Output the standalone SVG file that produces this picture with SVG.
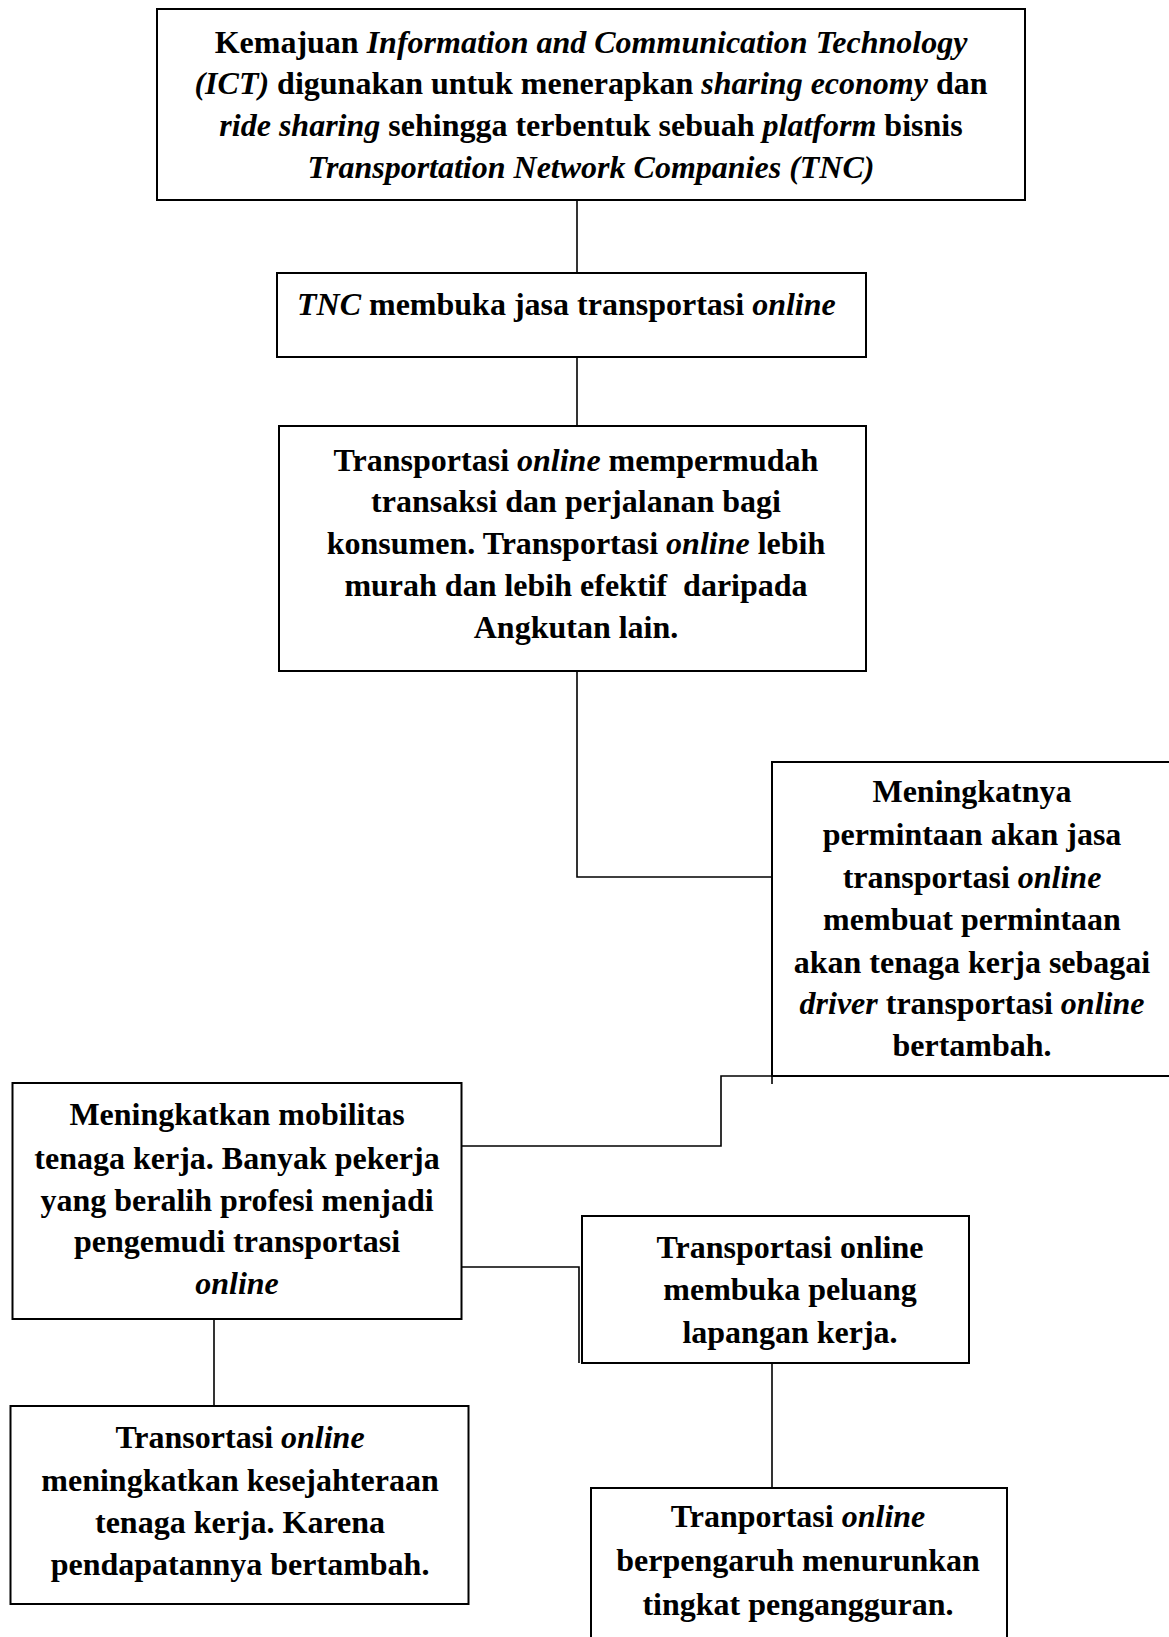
<svg xmlns="http://www.w3.org/2000/svg" width="1169" height="1637" viewBox="0 0 1169 1637">
<style>
.box{fill:#fff;stroke:#000;stroke-width:2}
.conn{fill:none;stroke:#000;stroke-width:1.6}
text{font-family:"Liberation Serif","Times New Roman",serif;font-size:32px;font-weight:bold;fill:#000}
.c{text-anchor:middle}
.i{font-style:italic}
</style>
<rect width="1169" height="1637" fill="#fff"/>
<g id="connectors">
<path class="conn" d="M577 200 V273"/>
<path class="conn" d="M577 357 V426"/>
<path class="conn" d="M577 671 V877 H772"/>
<path class="conn" d="M772 1076 H721 V1146 H462"/>
<path class="conn" d="M772 1076 V1084"/>
<path class="conn" d="M462 1267 H579 V1363"/>
<path class="conn" d="M214 1319 V1406"/>
<path class="conn" d="M772 1363 V1488"/>
</g>
<g id="n1">
<rect class="box" x="157" y="9" width="868" height="191"/>
<text class="c" x="591" y="52.5">Kemajuan <tspan class="i">Information and Communication Technology</tspan></text>
<text class="c" x="591" y="93.5"><tspan class="i">(ICT)</tspan> digunakan untuk menerapkan <tspan class="i">sharing economy</tspan> dan</text>
<text class="c" x="591" y="135.5"><tspan class="i">ride sharing</tspan> sehingga terbentuk sebuah <tspan class="i">platform</tspan> bisnis</text>
<text class="c" x="591" y="177.5"><tspan class="i">Transportation Network Companies (TNC)</tspan></text>
</g>
<g id="n2">
<rect class="box" x="277" y="273" width="589" height="84"/>
<text x="297" y="314.5"><tspan class="i">TNC</tspan> membuka jasa transportasi <tspan class="i">online</tspan></text>
</g>
<g id="n3">
<rect class="box" x="279" y="426" width="587" height="245"/>
<text class="c" x="576" y="470.5">Transportasi <tspan class="i">online</tspan> mempermudah</text>
<text class="c" x="576" y="511.5">transaksi dan perjalanan bagi</text>
<text class="c" x="576" y="553.5">konsumen. Transportasi <tspan class="i">online</tspan> lebih</text>
<text class="c" x="576" y="595.5" xml:space="preserve">murah dan lebih efektif  daripada</text>
<text class="c" x="576" y="637.5">Angkutan lain.</text>
</g>
<g id="n4">
<rect class="box" x="772" y="762" width="420" height="314"/>
<text class="c" x="972" y="802">Meningkatnya</text>
<text class="c" x="972" y="845">permintaan akan jasa</text>
<text class="c" x="972" y="888">transportasi <tspan class="i">online</tspan></text>
<text class="c" x="972" y="930">membuat permintaan</text>
<text class="c" x="972" y="973">akan tenaga kerja sebagai</text>
<text class="c" x="972" y="1014"><tspan class="i">driver</tspan> transportasi <tspan class="i">online</tspan></text>
<text class="c" x="972" y="1056">bertambah.</text>
</g>
<g id="n5">
<rect class="box" x="12.5" y="1083" width="449" height="236"/>
<text class="c" x="237" y="1124.5">Meningkatkan mobilitas</text>
<text class="c" x="237" y="1168.5">tenaga kerja. Banyak pekerja</text>
<text class="c" x="237" y="1210.5">yang beralih profesi menjadi</text>
<text class="c" x="237" y="1251.5">pengemudi transportasi</text>
<text class="c i" x="237" y="1293.5">online</text>
</g>
<g id="n6">
<rect class="box" x="582" y="1216" width="387" height="147"/>
<text class="c" x="790" y="1257.5">Transportasi online</text>
<text class="c" x="790" y="1299.5">membuka peluang</text>
<text class="c" x="790" y="1342.5">lapangan kerja.</text>
</g>
<g id="n7">
<rect class="box" x="591" y="1488" width="416" height="170"/>
<text class="c" x="798" y="1527">Tranportasi <tspan class="i">online</tspan></text>
<text class="c" x="798" y="1571">berpengaruh menurunkan</text>
<text class="c" x="798" y="1615">tingkat pengangguran.</text>
</g>
<g id="n8">
<rect class="box" x="10.5" y="1406" width="458" height="198"/>
<text class="c" x="240" y="1447.5">Transortasi <tspan class="i">online</tspan></text>
<text class="c" x="240" y="1490.5">meningkatkan kesejahteraan</text>
<text class="c" x="240" y="1532.5">tenaga kerja. Karena</text>
<text class="c" x="240" y="1574.5">pendapatannya bertambah.</text>
</g>
</svg>
